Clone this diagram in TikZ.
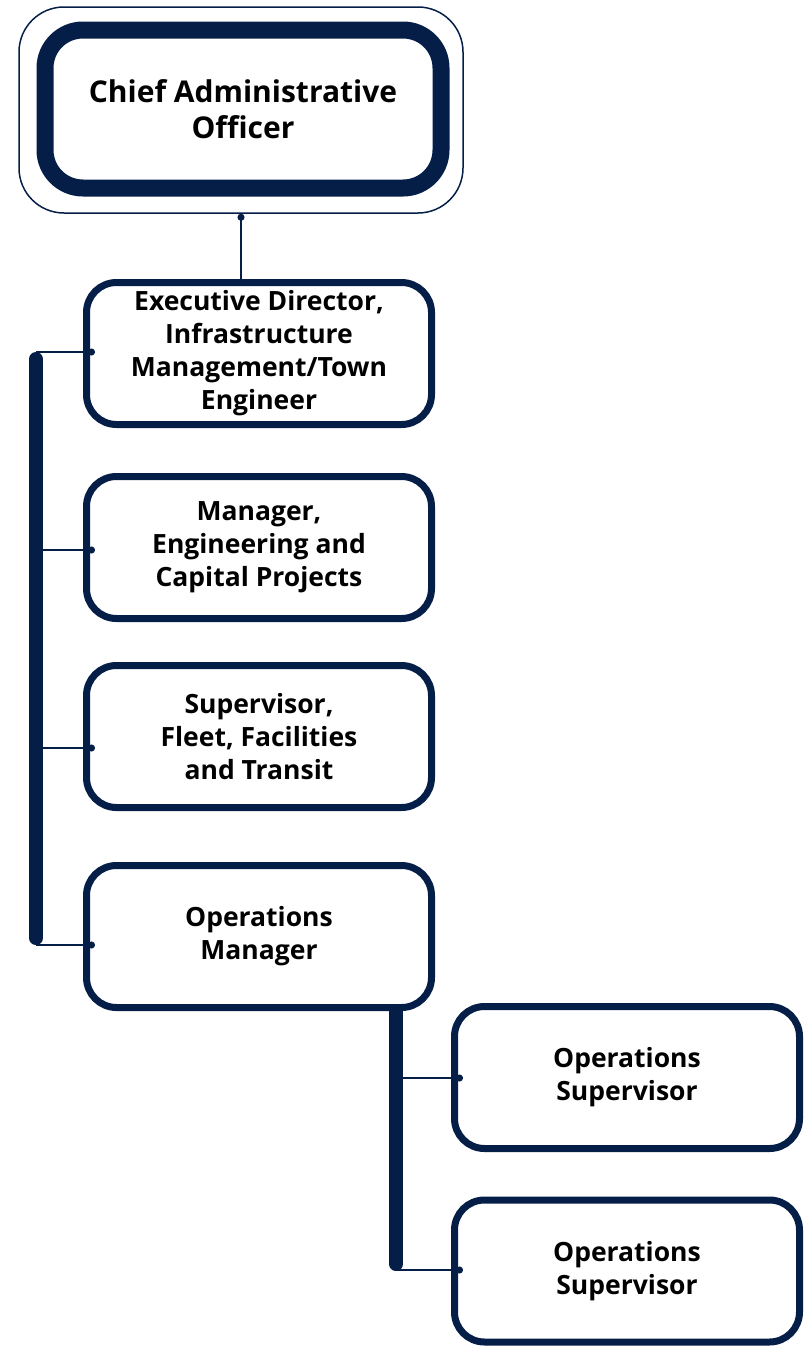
\documentclass[tikz,border=0pt]{standalone}
\usepackage{fontspec}
\setmainfont{Open Sans}
\usetikzlibrary{arrows.meta}
\definecolor{orgNavy}{HTML}{051E48}
\tikzset{
  orgbox/.style={draw=orgNavy, line width=7pt, rounded corners=30pt,
    minimum width=345pt, minimum height=142pt, inner sep=0pt, align=center,
    font=\fontsize{26.5}{33}\selectfont\bfseries},
  orglink/.style={draw=orgNavy, line width=1.5pt, -{Circle[length=7pt]}, shorten >=-12pt},
  orgbar/.style={draw=orgNavy, line width=14pt, line cap=round}
}
\begin{document}
\begin{tikzpicture}[x=1pt, y=-1pt]
\useasboundingbox (0,0) rectangle (806,1347);
% Top of the chart
\node[draw=orgNavy, line width=1.5pt, rounded corners=45pt,
  minimum width=444pt, minimum height=206pt] (caoring) at (241,110) {};
\node[orgbox, line width=17pt, rounded corners=38pt, minimum width=396pt,
  minimum height=158pt, font=\fontsize{30}{36}\selectfont\bfseries]
  (cao) at (243,109) {Chief Administrative\\Officer};
% Direct reports
\node[orgbox] (exec) at (259,353.5) {Executive Director,\\Infrastructure\\Management/Town\\Engineer};
\node[orgbox] (mgr) at (259,547.5) {Manager,\\Engineering and\\Capital Projects};
\node[orgbox] (sup) at (259,736.5) {Supervisor,\\Fleet, Facilities\\and Transit};
\node[orgbox] (opsmgr) at (259,936.5) {Operations\\Manager};
% Operations supervisors
\node[orgbox] (opsa) at (627,1077.5) {Operations\\Supervisor};
\node[orgbox] (opsb) at (627,1271) {Operations\\Supervisor};
% Connectors
\draw[orgNavy, line width=1.5pt, {Circle[length=7pt]}-] (caoring.south) -- (caoring.south |- exec.north);
\coordinate (barAtop) at (36,359);
\coordinate (barAbot) at (36,938);
\draw[orgbar] (barAtop) -- (barAbot);
\foreach \n/\y in {exec/352, mgr/550, sup/748, opsmgr/945} {
  \coordinate (tap-\n) at (36,\y);
  \draw[orglink] (tap-\n) -- (tap-\n -| \n.west);
}
\coordinate (barBtop) at (396,1011);
\coordinate (barBbot) at (396,1264);
\draw[orgbar] (barBtop) -- (barBbot);
\foreach \n/\y in {opsa/1078, opsb/1270} {
  \coordinate (tap-\n) at (396,\y);
  \draw[orglink] (tap-\n) -- (tap-\n -| \n.west);
}
\end{tikzpicture}
\end{document}
